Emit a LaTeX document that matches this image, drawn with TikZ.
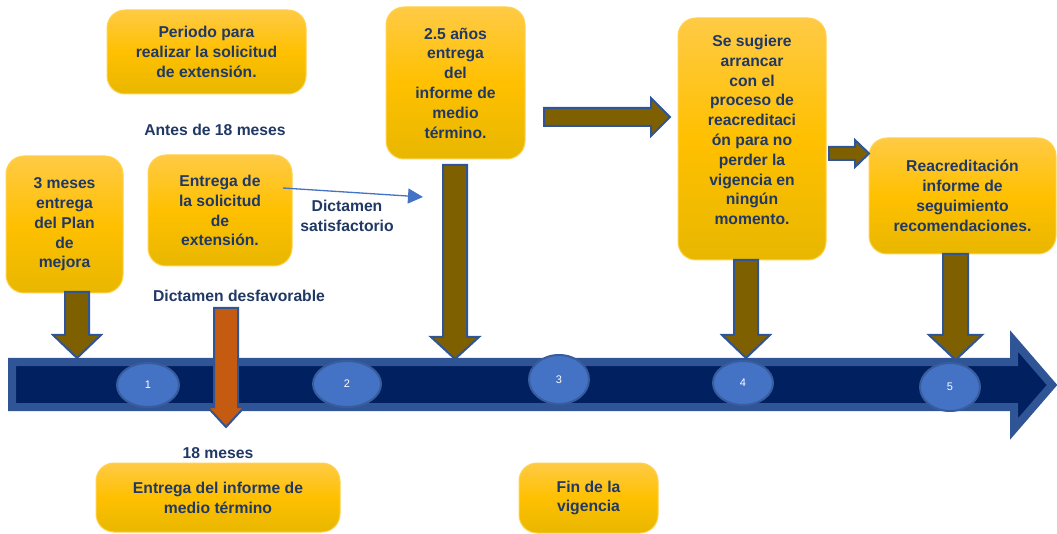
\documentclass[tikz,border=0pt]{standalone}
\usepackage{fontspec}
\setmainfont{Liberation Sans}
\usetikzlibrary{arrows.meta,shapes.geometric}
\definecolor{navy}{HTML}{203864}
\definecolor{boxtop}{HTML}{FFCA45}
\definecolor{boxmid}{HTML}{FFC000}
\definecolor{boxbot}{HTML}{E8B700}
\definecolor{boxedge}{HTML}{FFD24F}
\definecolor{brownar}{HTML}{7F6000}
\definecolor{blueedge}{HTML}{2F5597}
\definecolor{tlfill}{HTML}{002060}
\definecolor{circfill}{HTML}{4472C4}
\definecolor{circedge}{HTML}{385D9F}
\definecolor{orangear}{HTML}{C55A11}
\definecolor{thinblue}{HTML}{4472C4}
\newcommand\blkdown[7]{%
  \draw[blk, fill=#7] (#1-#5,#2) -- (#1+#5,#2) -- (#1+#5,#3) -- (#1+#6,#3) -- (#1,#4) -- (#1-#6,#3) -- (#1-#5,#3) -- cycle;}
\newcommand\blkright[7]{%
  \draw[blk, fill=#7] (#1,#4-#5) -- (#2,#4-#5) -- (#2,#4-#6) -- (#3,#4) -- (#2,#4+#6) -- (#2,#4+#5) -- (#1,#4+#5) -- cycle;}
\tikzset{
  txt/.style={text=navy, font=\bfseries\fontsize{15.7}{19.8}\selectfont, align=center, inner sep=0pt},
  box/.style={txt, rounded corners=18pt, draw=boxedge, line width=1pt,
    top color=boxtop, bottom color=boxbot, middle color=boxmid},
  blk/.style={draw=blueedge, line width=2pt, line join=miter},
  circ/.style={ellipse, fill=circfill, draw=circedge, line width=2pt, text=white,
    font=\fontsize{11}{13}\selectfont, inner sep=0pt},
}
\begin{document}
\begin{tikzpicture}[x=1pt,y=-1pt]
\useasboundingbox (0,0) rectangle (1057,534);

% timeline
\draw[fill=tlfill, draw=blueedge, line width=8pt, line join=miter]
  (12,362) -- (1014,362) -- (1014,341) -- (1052,385) -- (1014,429) -- (1014,407) -- (12,407) -- cycle;

% circles
\node[circ, minimum width=62pt, minimum height=44pt] (c1) at (148,385) {1};
\node[circ, minimum width=68pt, minimum height=46pt] (c2) at (347,384) {2};
\node[circ, minimum width=60pt, minimum height=49pt] (c3) at (559,379.5) {3};
\node[circ, minimum width=60pt, minimum height=44pt] (c4) at (743,383) {4};
\node[circ, minimum width=60pt, minimum height=48pt] (c5) at (950,387) {5};

% boxes
\node[box, minimum width=199pt, minimum height=84pt] (periodo) at (206.5,52)
  {Periodo para\\realizar la solicitud\\de extensión.};
\node[box, minimum width=139pt, minimum height=152pt] (anos) at (455.5,83)
  {2.5 años\\entrega\\del\\informe de\\medio\\término.};
\node[box, minimum width=117pt, minimum height=137pt] (tres) at (64.5,224.5)
  {3 meses\\entrega\\del Plan\\de\\mejora};
\node[box, minimum width=144pt, minimum height=111pt] (entrega) at (220,210.5)
  {Entrega de\\la solicitud\\de\\extensión.};
\node[box, minimum width=148pt, minimum height=242pt, text depth=18pt] (sugiere) at (752,139)
  {Se sugiere\\arrancar\\con el\\proceso de\\reacreditaci\\ón para no\\perder la\\vigencia en\\ningún\\momento.};
\node[box, minimum width=187pt, minimum height=116pt] (reacred) at (962.5,196)
  {Reacreditación\\informe de\\seguimiento\\recomendaciones.};
\node[box, minimum width=244pt, minimum height=69pt] (informe) at (218,497.5)
  {Entrega del informe de\\medio término};
\node[box, minimum width=139pt, minimum height=70pt] (fin) at (588.5,498)
  {Fin de la\\vigencia};

% free labels
\node[txt] (antes) at (215,130) {Antes de 18 meses};
\node[txt] (satis) at (347,216) {Dictamen\\satisfactorio};
\node[txt] (desfav) at (239,296) {Dictamen desfavorable};
\node[txt] (dieciocho) at (218,453) {18 meses};

% brown block arrows down
\blkdown{77}{292}{335}{358}{12}{24}{brownar}
\blkdown{455}{165}{337}{359}{12}{24}{brownar}
\blkdown{746}{260}{335}{358}{12}{24}{brownar}
\blkdown{955.5}{254}{335}{360}{12.5}{26.5}{brownar}
% orange arrow
\blkdown{226}{308}{407}{427}{12}{18.5}{orangear}

% horizontal block arrows
\blkright{544}{651}{670}{117}{9}{19}{brownar}
\blkright{829}{855}{869}{153.5}{6.5}{13.5}{brownar}

% thin blue connector
\coordinate (thinstart) at (283,188);
\coordinate (thinend) at (423,197);
\draw[thinblue, line width=1.3pt, -{Triangle[length=15pt,width=15pt]}] (thinstart) -- (thinend);
\end{tikzpicture}
\end{document}
